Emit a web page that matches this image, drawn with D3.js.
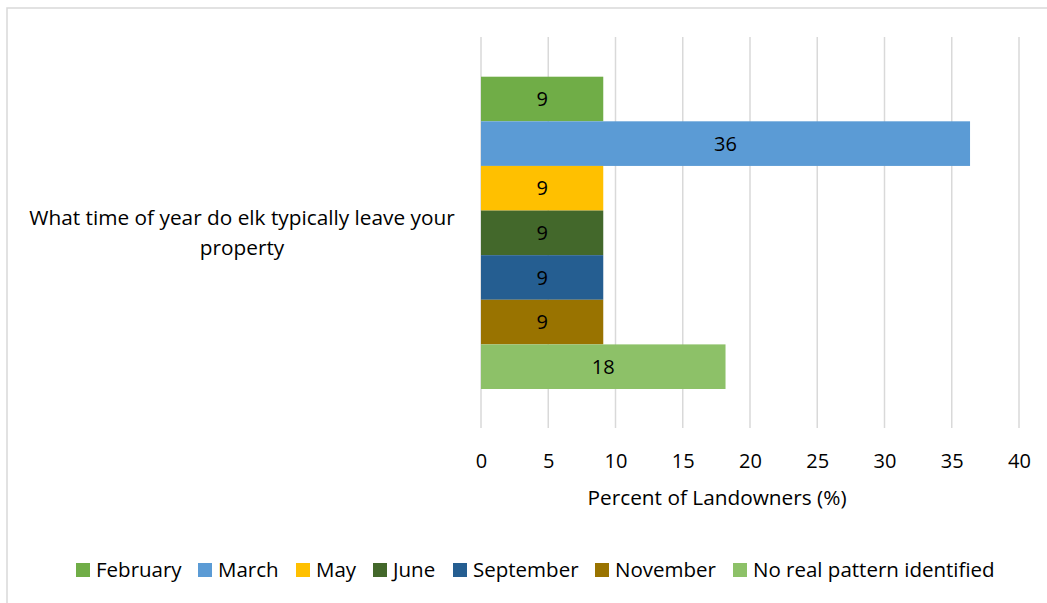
<!DOCTYPE html>
<html>
<head>
<meta charset="utf-8">
<script src="https://cdn.jsdelivr.net/npm/d3@7"></script>
<style>
  html, body { margin: 0; padding: 0; background: #fff; }
  svg { display: block; }
  text { font-family: "Open Sans", "Noto Sans", sans-serif; fill: #000; }
</style>
</head>
<body>
<svg id="chart" width="1047" height="603"></svg>
<script>
const question = ["What time of year do elk typically leave your", "property"];
const seriesNames = ["February", "March", "May", "June", "September", "November", "No real pattern identified"];
const seriesValues = [9.09, 36.36, 9.09, 9.09, 9.09, 9.09, 18.18];
const seriesLabels = ["9", "36", "9", "9", "9", "9", "18"];
const seriesColors = ["#70AD47", "#5B9BD5", "#FFC000", "#43682B", "#255E91", "#997300", "#8DC168"];
const xTicks = [0, 5, 10, 15, 20, 25, 30, 35, 40];
const xTitle = "Percent of Landowners (%)";

const svg = d3.select("#chart");
const W = 1047, H = 603;
const FONT = '"Open Sans", "Noto Sans", sans-serif';

// outer border
svg.append("rect").attr("x", 7).attr("y", 8).attr("width", W + 10).attr("height", H + 10)
  .attr("fill", "none").attr("stroke", "#d9d9d9").attr("stroke-width", 1.5);

const plot = { left: 481, right: 1019, top: 37, bottom: 428 };
const x = d3.scaleLinear().domain([0, 40]).range([plot.left, plot.right]);
const y = d3.scaleBand().domain(seriesNames).range([76.7, 389]).paddingInner(0).paddingOuter(0);

// gridlines
svg.append("g").selectAll("line").data(xTicks).join("line")
  .attr("x1", d => x(d)).attr("x2", d => x(d))
  .attr("y1", plot.top).attr("y2", plot.bottom)
  .attr("stroke", "#d9d9d9").attr("stroke-width", 1.5);

// bars
svg.append("g").selectAll("rect").data(seriesNames).join("rect")
  .attr("x", x(0))
  .attr("y", d => y(d))
  .attr("width", (d, i) => x(seriesValues[i]) - x(0))
  .attr("height", y.bandwidth())
  .attr("fill", (d, i) => seriesColors[i]);

// data labels
svg.append("g").selectAll("text").data(seriesNames).join("text")
  .attr("x", (d, i) => x(seriesValues[i] / 2))
  .attr("y", d => y(d) + y.bandwidth() / 2)
  .attr("dy", "0.36em")
  .attr("text-anchor", "middle")
  .attr("font-size", 20)
  .text((d, i) => seriesLabels[i]);

// x axis tick labels
const axis = d3.axisBottom(x).tickValues(xTicks).tickSize(0).tickPadding(0).tickFormat(d3.format("d"));
const gx = svg.append("g").attr("transform", `translate(0, 454)`).call(axis);
gx.select(".domain").remove();
gx.selectAll("text").attr("font-size", 20).attr("fill", "#000").attr("font-family", FONT);

// axis title
svg.append("text").attr("x", 717).attr("y", 505)
  .attr("text-anchor", "middle").attr("font-size", 20.8).text(xTitle);

// category label
svg.append("g").selectAll("text").data(question).join("text")
  .attr("x", 242).attr("y", (d, i) => 225 + i * 30)
  .attr("text-anchor", "middle").attr("font-size", 20.8).text(d => d);

// legend
const legendX = [76, 198, 296, 373, 453, 595, 733];
const lg = svg.append("g").selectAll("g").data(seriesNames).join("g")
  .attr("transform", (d, i) => `translate(${legendX[i]}, 563)`);
lg.append("rect").attr("width", 14).attr("height", 14).attr("fill", (d, i) => seriesColors[i]);
lg.append("text").attr("x", 20).attr("y", 7).attr("dy", "0.36em").attr("font-size", 20.5).text(d => d);
</script>
</body>
</html>
